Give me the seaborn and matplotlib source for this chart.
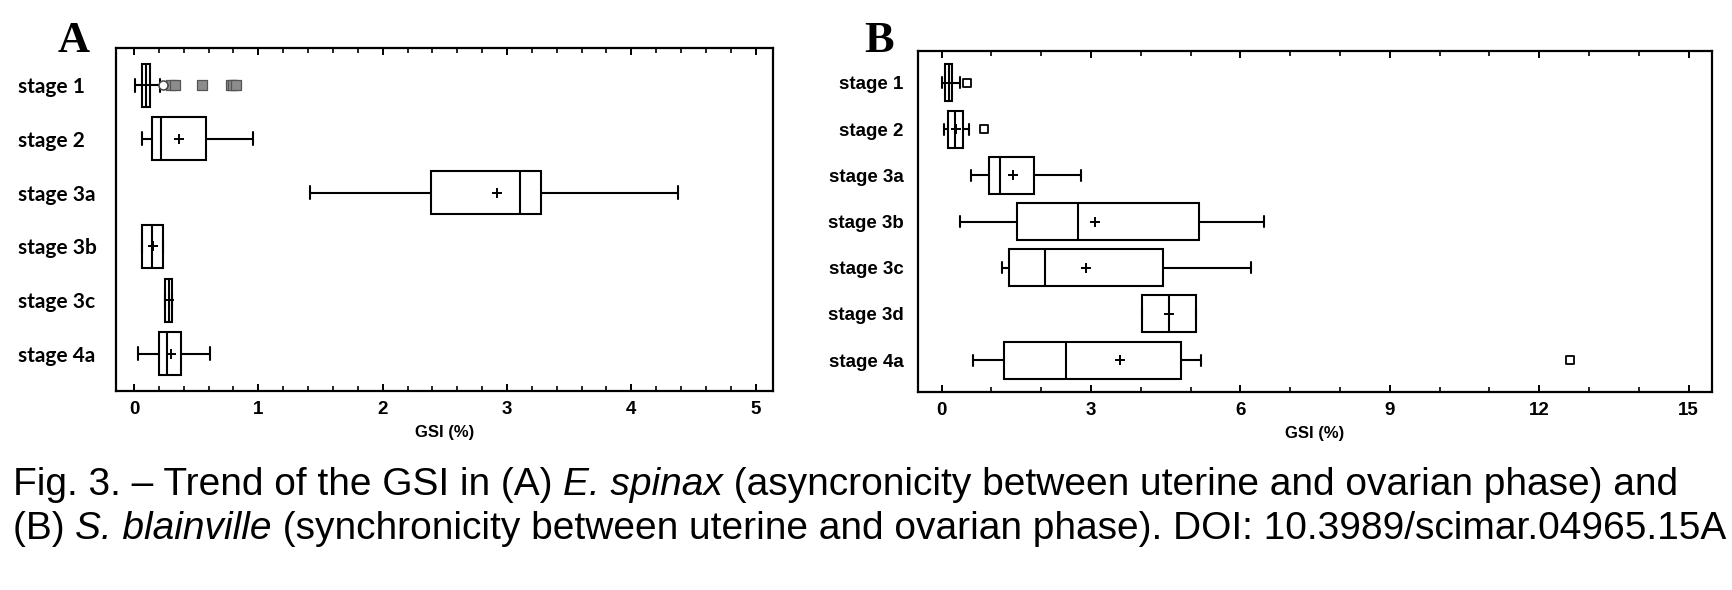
import pandas as pd
import matplotlib.pyplot as plt
import matplotlib.ticker as ticker
import seaborn as sns

# panel A: E. spinax
stages_a = ['stage 1', 'stage 2', 'stage 3a', 'stage 3b', 'stage 3c', 'stage 4a']
a_low = [0.01, 0.064, 1.415, 0.064, 0.252, 0.032]
a_q1 = [0.062, 0.147, 2.387, 0.064, 0.252, 0.201]
a_med = [0.097, 0.217, 3.105, 0.147, 0.279, 0.265]
a_q3 = [0.129, 0.576, 3.27, 0.233, 0.308, 0.375]
a_high = [0.21, 0.957, 4.379, 0.233, 0.308, 0.614]
a_mean = [0.10, 0.359, 2.923, 0.15, 0.279, 0.295]
a_out_circle = [0.23]
a_out_square = [0.30, 0.33, 0.55, 0.78, 0.80, 0.82]

# panel B: S. blainville
stages_b = ['stage 1', 'stage 2', 'stage 3a', 'stage 3b', 'stage 3c', 'stage 3d', 'stage 4a']
b_low = [0.0, 0.046, 0.596, 0.375, 1.219, 4.019, 0.623]
b_q1 = [0.066, 0.133, 0.944, 1.507, 1.36, 4.019, 1.246]
b_med = [0.147, 0.267, 1.172, 2.746, 2.083, 4.561, 2.498]
b_q3 = [0.213, 0.42, 1.862, 5.17, 4.44, 5.117, 4.796]
b_high = [0.367, 0.555, 2.80, 6.47, 6.22, 5.117, 5.211]
b_mean = [0.15, 0.287, 1.433, 3.074, 2.893, 4.56, 3.583]
b_out_stage = ['stage 1', 'stage 2', 'stage 4a']
b_out_value = [0.50, 0.855, 12.62]

caption_line1 = [('Fig. 3. – Trend of the GSI in (A) ', 'normal'), ('E. spinax', 'italic'),
                 (' (asyncronicity between uterine and ovarian phase) and', 'normal')]
caption_line2 = [('(B) ', 'normal'), ('S. blainville', 'italic'),
                 (' (synchronicity between uterine and ovarian phase). DOI: 10.3989/scimar.04965.15A',
                  'normal')]


def five_number_frame(stages, low, q1, med, q3, high):
    # five values per stage: with whis=(0, 100) seaborn gives back exactly these
    rows = []
    for i, s in enumerate(stages):
        for v in (low[i], q1[i], med[i], q3[i], high[i]):
            rows.append({'stage': s, 'GSI': v})
    return pd.DataFrame(rows)


def draw_runs(fig, x, y, runs, **kw):
    # mixed roman / italic line, pieces put one after the other
    renderer = fig.canvas.get_renderer()
    for s, style in runs:
        fig.text(x, y, s, style=style, ha='left', va='baseline', **kw)
        probe = fig.text(0, 0, s + 'x', style=style, **kw)
        probe_x = fig.text(0, 0, 'x', style=style, **kw)
        w = probe.get_window_extent(renderer).width - probe_x.get_window_extent(renderer).width
        probe.remove()
        probe_x.remove()
        x = x + w / fig.bbox.width


sns.set_theme(style='white')
plt.rcParams['font.family'] = ['Liberation Sans', 'DejaVu Sans']
for key in ('text.color', 'axes.labelcolor', 'xtick.color', 'ytick.color'):
    plt.rcParams[key] = 'black'

fig = plt.figure(figsize=(17.32, 5.90), dpi=100)
ax_a = fig.add_axes([116 / 1732, 1 - 391 / 590, (773 - 116) / 1732, (391 - 48) / 590])
ax_b = fig.add_axes([918 / 1732, 1 - 392 / 590, (1712 - 918) / 1732, (392 - 51) / 590])

lw = 1.5
box_kw = dict(whis=(0, 100), width=0.8, color='white', linecolor='black',
              linewidth=lw, showfliers=False, capwidths=0.24)

df_a = five_number_frame(stages_a, a_low, a_q1, a_med, a_q3, a_high)
sns.boxplot(data=df_a, x='GSI', y='stage', order=stages_a, ax=ax_a, **box_kw)
sns.stripplot(x=a_mean, y=stages_a, order=stages_a, jitter=False, marker='+',
              color='black', size=7, linewidth=1.4, ax=ax_a)
sns.stripplot(x=a_out_square, y=['stage 1'] * len(a_out_square), order=stages_a,
              jitter=False, marker='s', color='#8c8c8c', edgecolor='#555555',
              size=6.5, linewidth=0.9, ax=ax_a)
sns.stripplot(x=a_out_circle, y=['stage 1'] * len(a_out_circle), order=stages_a,
              jitter=False, marker='o', color='white', edgecolor='#444444',
              size=6.5, linewidth=1.1, ax=ax_a)

df_b = five_number_frame(stages_b, b_low, b_q1, b_med, b_q3, b_high)
sns.boxplot(data=df_b, x='GSI', y='stage', order=stages_b, ax=ax_b, **box_kw)
sns.stripplot(x=b_mean, y=stages_b, order=stages_b, jitter=False, marker='+',
              color='black', size=7, linewidth=1.4, ax=ax_b)
sns.stripplot(x=b_out_value, y=b_out_stage, order=stages_b, jitter=False, marker='s',
              color='white', edgecolor='black', size=5.5, linewidth=1.3, ax=ax_b)

ax_a.set_xlim(-0.145, 5.14)
ax_a.set_ylim(len(stages_a) - 1 + 0.69, -0.69)
ax_a.xaxis.set_major_locator(ticker.MultipleLocator(1))
ax_a.xaxis.set_minor_locator(ticker.MultipleLocator(0.2))

ax_b.set_xlim(-0.476, 15.47)
ax_b.set_ylim(len(stages_b) - 1 + 0.69, -0.69)
ax_b.xaxis.set_major_locator(ticker.MultipleLocator(3))
ax_b.xaxis.set_minor_locator(ticker.MultipleLocator(1))

for ax in (ax_a, ax_b):
    for sp in ax.spines.values():
        sp.set_color('black')
        sp.set_linewidth(1.6)
    ax.tick_params(axis='x', which='major', direction='in', top=True, bottom=True,
                   length=5, width=1.4, color='black', pad=7, labelsize=13.5)
    ax.tick_params(axis='x', which='minor', direction='in', top=True, bottom=True,
                   length=3.5, width=1.2, color='black')
    ax.tick_params(axis='y', length=0)
    for lab in ax.get_xticklabels():
        lab.set_fontweight('bold')
    ax.set_xlabel('GSI (%)', fontsize=12, fontweight='bold', labelpad=5)
    ax.set_ylabel('')

ax_a.tick_params(axis='y', pad=70.6)
ax_a.set_yticks(range(len(stages_a)))
ax_a.set_yticklabels(stages_a, ha='left', fontsize=15, fontweight='bold',
                     family=['Lato', 'DejaVu Sans'])
ax_b.tick_params(axis='y', pad=10.5)
ax_b.set_yticks(range(len(stages_b)))
ax_b.set_yticklabels(stages_b, fontsize=13.5, fontweight='bold')

fig.text(74 / 1732, 1 - 52 / 590, 'A', ha='center', va='baseline', fontsize=32,
         fontweight='bold', family=['Liberation Serif', 'DejaVu Serif'])
fig.text(879 / 1732, 1 - 52 / 590, 'B', ha='center', va='baseline', fontsize=32,
         fontweight='bold', family=['Liberation Serif', 'DejaVu Serif'])

draw_runs(fig, 13 / 1732, 1 - 495 / 590, caption_line1, fontsize=28)
draw_runs(fig, 13 / 1732, 1 - 539 / 590, caption_line2, fontsize=28)

fig.savefig('out.png', dpi=100, facecolor='white')
